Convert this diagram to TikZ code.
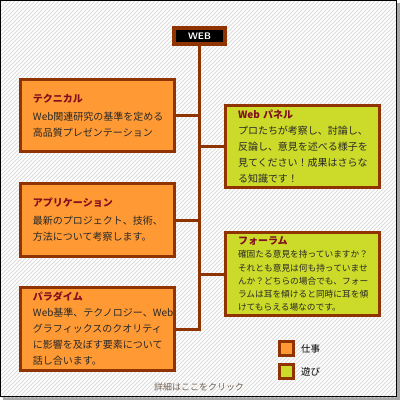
\documentclass[tikz,border=0pt]{standalone}
\usepackage{fontspec}
\newfontfamily\jp{Noto Sans CJK JP}
\usepackage{tikz}
\usetikzlibrary{positioning}
\definecolor{wbrown}{RGB}{143,51,0}
\definecolor{worange}{RGB}{255,153,51}
\definecolor{wlime}{RGB}{204,218,41}
\definecolor{wtitle}{RGB}{128,16,32}
\definecolor{wtext}{RGB}{40,40,40}
\definecolor{wlink}{RGB}{120,100,84}
\definecolor{whatch}{RGB}{220,220,220}

\begin{document}
\begin{tikzpicture}[x=1pt, y=-1pt,
  box/.style={draw=wbrown, line width=3pt, minimum width=154pt, inner xsep=12.5pt, inner ysep=0pt, text width=129pt, align=left, text=wtext, font=\jp\fontsize{10}{16}\selectfont},
  workbox/.style={box, fill=worange},
  playbox/.style={box, fill=wlime},
  link/.style={draw=wbrown, line width=3pt},
  keybox/.style={draw=wbrown, line width=3pt, minimum size=14pt, inner sep=0pt}]
\useasboundingbox (0,0) rectangle (400,400);
% frame with shadow
\fill[gray!70] (3,3) rectangle (400,400);
\fill[white] (0,0) rectangle (397,397);
\begin{scope}
\clip (0,0) rectangle (397,397);
\foreach \i in {-400,-396,...,400}
  \draw[whatch, line width=0.8pt] (\i,400) -- (\i+400,0);
\end{scope}
\draw[black, line width=1pt] (0.5,0.5) rectangle (396.5,396.5);

% title
\node[draw=wbrown, line width=4pt, fill=black, minimum width=51pt, minimum height=16pt, inner sep=0pt, text=white, font=\sffamily\bfseries\fontsize{9.5}{9.5}\selectfont] (web) at (199.5,36) {WEB};

% boxes
\node[workbox, minimum height=72pt] (tech) at (97.5,115.5) {{\bfseries\color{wtitle}テクニカル}\\[2pt]Web関連研究の基準を定める\\高品質プレゼンテーション};
\node[workbox, minimum height=73pt] (appl) at (97.5,220) {{\bfseries\color{wtitle}アプリケーション}\\[2pt]最新のプロジェクト、技術、\\方法について考察します。};
\node[workbox, minimum height=83pt] (para) at (97.5,329) {{\bfseries\color{wtitle}パラダイム}\\Web基準、テクノロジー、Web\\グラフィックスのクオリティ\\に影響を及ぼす要素について\\話し合います。};
\node[playbox, minimum height=82pt] (panel) at (302.5,146.5) {{\bfseries\color{wtitle}Web パネル}\\プロたちが考察し、討論し、\\反論し、意見を述べる様子を\\見てください！成果はさらな\\る知識です！};
\node[playbox, minimum height=83pt, font=\jp\fontsize{8.7}{13.2}\selectfont] (forum) at (302.5,274) {{\bfseries\color{wtitle}\fontsize{10}{13.2}\selectfont フォーラム}\\確固たる意見を持っていますか？\\それとも意見は何も持っていませ\\んか？どちらの場合でも、フォー\\ラムは耳を傾けると同時に耳を傾\\けてもらえる場なのです。};

% connectors
\draw[link] (web.south) -- (web.south |- para.east) -- (para.east);
\draw[link] (tech.east) -- (tech.east -| web.south);
\draw[link] (appl.east) -- (appl.east -| web.south);
\draw[link] (panel.west) -- (panel.west -| web.south);
\draw[link] (forum.west) -- (forum.west -| web.south);

% legend
\node[keybox, fill=worange] (kwork) at (286.5,348.5) {};
\node[keybox, fill=wlime, below=6pt of kwork] (kplay) {};
\node[right=6pt of kwork, inner sep=0pt, font=\jp\fontsize{9.5}{10}\selectfont] (lwork) {仕事};
\node[right=6pt of kplay, inner sep=0pt, font=\jp\fontsize{9.5}{10}\selectfont] (lplay) {遊び};

\node[text=wlink, font=\jp\fontsize{9}{10}\selectfont] (more) at (199,387) {詳細はここをクリック};
\end{tikzpicture}
\end{document}
